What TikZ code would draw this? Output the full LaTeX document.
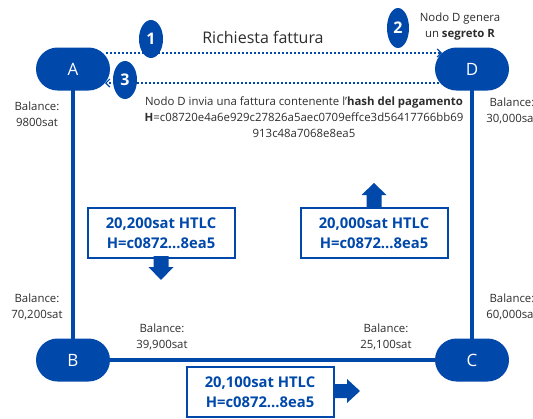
\documentclass[tikz,border=0pt]{standalone}
\usepackage{fontspec}
\setmainfont{Open Sans}
\usetikzlibrary{shapes.geometric,arrows.meta}
\definecolor{lnblue}{RGB}{0,72,170}
\definecolor{txtgray}{RGB}{45,45,45}

\tikzset{
    peer/.style={fill=lnblue, text=white, rounded corners=21.5pt, minimum width=74pt, minimum height=43pt, inner sep=0pt, font=\fontsize{17}{19}\selectfont},
    channel/.style={lnblue, line width=4pt},
    msg/.style={lnblue, line width=2pt, dash pattern=on 2pt off 2pt, -{Straight Barb[length=4pt,width=8pt,line width=1.2pt]}},
    stepmark/.style={ellipse, fill=lnblue, text=white, minimum width=24pt, minimum height=38pt, inner sep=0pt, font=\fontsize{16}{18}\selectfont\bfseries},
    htlc/.style={draw=lnblue, line width=2pt, text=lnblue, minimum width=147pt, minimum height=50pt, align=center, font=\fontsize{14.8}{20}\selectfont\bfseries},
    bal/.style={text=txtgray, align=center, font=\fontsize{11.4}{16}\selectfont, inner sep=0pt}
}

\begin{document}
\begin{tikzpicture}[x=1pt, y=-1pt]
    \useasboundingbox (0,0) rectangle (533,418);

    \coordinate (pA) at (73,69);
    \coordinate (pB) at (73,360);
    \coordinate (pC) at (472,360);
    \coordinate (pD) at (472,69);

    % canali
    \draw[channel] (pA) -- (pB) -- (pC) -- (pD);

    \node[peer] (A) at (pA) {A};
    \node[peer] (B) at (pB) {B};
    \node[peer] (C) at (pC) {C};
    \node[peer] (D) at (pD) {D};

    % messaggi fra A e D
    \coordinate (a1) at (106,53);
    \coordinate (d1) at (442,53);
    \coordinate (d3) at (439,83);
    \coordinate (a3) at (105,83);
    \draw[msg] (a1) -- (d1);
    \draw[msg] (d3) -- (a3);

    \node[stepmark] (s1) at (151,39) {1};
    \node[stepmark, minimum height=40pt, minimum width=22pt] (s2) at (398,28) {2};
    \node[stepmark] (s3) at (125,80) {3};

    \node[text=txtgray, font=\fontsize{16}{18}\selectfont] (req) at (263,37) {Richiesta fattura};
    \node[bal] (gen) at (460,27) {Nodo D genera\\un \textbf{segreto R}};
    \node[bal] (inv) at (304,117) {Nodo D invia una fattura contenente l’\textbf{hash del pagamento}\\
        \textbf{H}=c08720e4a6e929c27826a5aec0709effce3d56417766bb69\\913c48a7068e8ea5};

    % saldi
    \node[bal] (balA) at (37,114) {Balance:\\9800sat};
    \node[bal] (balD) at (512,111) {Balance:\\30,000sat};
    \node[bal] (balBa) at (37,307) {Balance:\\70,200sat};
    \node[bal] (balCd) at (512,307) {Balance:\\60,000sat};
    \node[bal] (balBc) at (162,337) {Balance:\\39,900sat};
    \node[bal] (balCb) at (386,337) {Balance:\\25,100sat};

    % HTLC
    \node[htlc] (h1) at (161,233) {20,200sat HTLC\\H=c0872...8ea5};
    \node[htlc] (h2) at (374,233) {20,000sat HTLC\\H=c0872...8ea5};
    \node[htlc] (h3) at (260,392) {20,100sat HTLC\\H=c0872...8ea5};

    \fill[lnblue] (153.5,256) -- (168.5,256) -- (168.5,267) -- (173.5,267) -- (161,280) -- (148.5,267) -- (153.5,267) -- cycle;
    \fill[lnblue] (366.5,207) -- (381.5,207) -- (381.5,195) -- (386.5,195) -- (374,183) -- (361.5,195) -- (366.5,195) -- cycle;
    \fill[lnblue] (334,384) -- (347,384) -- (347,379) -- (360,391) -- (347,403) -- (347,398) -- (334,398) -- cycle;
\end{tikzpicture}
\end{document}
